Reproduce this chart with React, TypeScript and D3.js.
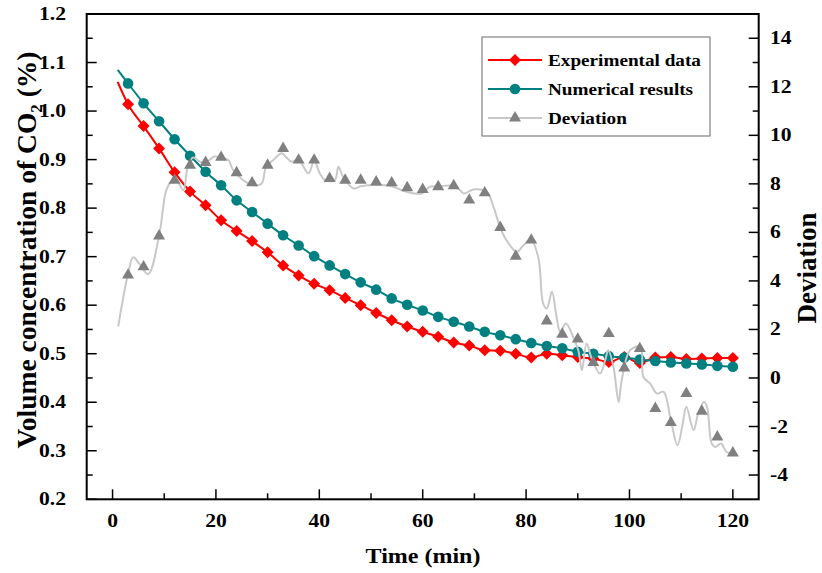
import React from "react";
import * as d3 from "d3";

// sampling times of the markers (min)
const times = [3, 6, 9, 12, 15, 18, 21, 24, 27, 30, 33, 36, 39, 42, 45, 48, 51, 54, 57, 60,
  63, 66, 69, 72, 75, 78, 81, 84, 87, 90, 93, 96, 99, 102, 105, 108, 111, 114, 117, 120];

const experimental = [1.014, 0.969, 0.923, 0.874, 0.834, 0.806, 0.775, 0.753, 0.732, 0.709,
  0.682, 0.661, 0.644, 0.631, 0.615, 0.600, 0.584, 0.569, 0.556, 0.545,
  0.535, 0.523, 0.517, 0.507, 0.506, 0.500, 0.492, 0.500, 0.497, 0.493,
  0.490, 0.483, 0.493, 0.481, 0.492, 0.493, 0.489, 0.490, 0.491, 0.491];

const numerical = [1.057, 1.016, 0.979, 0.942, 0.908, 0.875, 0.847, 0.816, 0.792, 0.768,
  0.744, 0.723, 0.701, 0.682, 0.664, 0.647, 0.632, 0.614, 0.601, 0.589,
  0.576, 0.566, 0.556, 0.545, 0.538, 0.530, 0.522, 0.516, 0.511, 0.504,
  0.500, 0.495, 0.492, 0.488, 0.485, 0.482, 0.480, 0.478, 0.475, 0.473];

const deviation = [4.24, 4.58, 5.85, 8.15, 8.77, 8.88, 9.09, 8.46, 8.04, 8.77,
  9.46, 8.98, 8.98, 8.22, 8.15, 8.15, 8.08, 8.04, 7.84, 7.77,
  7.88, 7.92, 7.33, 7.63, 6.20, 5.02, 5.68, 2.35, 1.80, 1.60,
  0.64, 1.83, 0.41, 1.21, -1.26, -1.84, -0.64, -1.37, -2.43, -3.09];

// curves start at t = 1 min, before the first marker
const startTime = 1;
const experimentalStart = 1.06;
const numericalStart = 1.085;

// the grey deviation curve
const devCurveT = [1.1, 3, 4, 5.2, 6.9, 9, 10.4, 11.4, 12.5, 13.7, 14.6, 15.6, 17, 18.5, 19.8, 21,
  22.4, 23.3, 25.3, 27, 28.8, 29.7, 31.1, 32.7, 33.6, 34.6, 36, 37.9, 39, 40.1, 41.1, 43,
  43.7, 44.6, 46.6, 48, 51.1, 54, 56.9, 59.8, 61.4, 63, 66, 67.2, 68, 69.8, 72.4, 73.7,
  75, 76.2, 78.2, 79.5, 81, 82.4, 83.3, 84, 85, 85.9, 86.6, 87.7, 89.1, 90.1, 90.8, 91.7,
  92.7, 94.3, 95.3, 95.9, 96.9, 97.9, 98.5, 100.1, 102.1, 102.7, 104, 105.3, 106.6, 108,
  109.3, 110.3, 111, 112.4, 113.3, 114.4, 115, 115.9, 116.6, 117.7, 118.8, 120];
const devCurveV = [2.13, 4.3, 4.97, 4.7, 4.28, 5.85, 7.74, 8.09, 8.1, 7.74, 8.77, 9.09, 8.9, 8.95, 9.14, 9.05,
  8.98, 8.57, 8.15, 7.95, 8.0, 8.7, 8.98, 9.26, 9.1, 8.91, 8.98, 8.43, 8.95, 8.43, 8.15, 8.15,
  8.7, 8.29, 7.81, 7.9, 7.95, 7.9, 7.67, 7.6, 7.88, 7.9, 7.92, 7.74, 7.6, 7.77, 7.67, 7.05,
  6.2, 5.68, 5.2, 5.47, 5.68, 4.93, 3.07, 2.86, 3.55, 2.52, 1.9, 2.24, 1.69, 1.14, 0.32, 1.42,
  0.8, 0.18, 0.73, 1.14, 0.46, -0.99, -0.09, 1.14, 1.28, 0.04, -0.23, -0.64, -0.57, -1.74,
  -2.77, -1.88, -1.19, -2.15, -1.47, -0.99, -1.19, -2.7, -2.84, -2.7, -3.05, -3.09];

const xTicks = [0, 20, 40, 60, 80, 100, 120];
const leftTicks = [0.2, 0.3, 0.4, 0.5, 0.6, 0.7, 0.8, 0.9, 1.0, 1.1, 1.2];
const rightTicks = [-4, -2, 0, 2, 4, 6, 8, 10, 12, 14];

const legendItems = ["Experimental data", "Numerical results", "Deviation"];

const W = 822, H = 573;
const FONT = "'Liberation Serif', 'Times New Roman', serif";
const SX = 1.2; // the source picture is stretched sideways

const Txt = ({ x, y, size, anchor = "start", rotate = false, children }) =>
  <g transform={rotate ? `translate(${x},${y}) rotate(-90)` : `translate(${x},${y}) scale(${SX},1)`}>
    <text textAnchor={anchor} fontSize={size} fontWeight="bold" fontFamily={FONT} fill="#000">{children}</text>
  </g>;

const diamond = (s) => `M0,${-s}L${s},0L0,${s}L${-s},0Z`;
const triangle = (w) => {
  const h = w * 0.866;
  return `M0,${-h * 2 / 3}L${w / 2},${h / 3}L${-w / 2},${h / 3}Z`;
};

const App = () => {
  const x = d3.scaleLinear().domain([-5, 125]).range([86.7, 758.7]);
  const yL = d3.scaleLinear().domain([0.2, 1.2]).range([499.3, 14]);
  const yR = d3.scaleLinear().domain([-5, 15]).range([499.3, 14]);

  const smooth = d3.line().curve(d3.curveMonotoneX);
  const wiggly = d3.line().curve(d3.curveCatmullRom.alpha(0.5));

  const expPts = [[x(startTime), yL(experimentalStart)], ...times.map((t, i) => [x(t), yL(experimental[i])])];
  const numPts = [[x(startTime), yL(numericalStart)], ...times.map((t, i) => [x(t), yL(numerical[i])])];
  const devPts = devCurveT.map((t, i) => [x(t), yR(devCurveV[i])]);

  const xMinor = d3.range(10, 120, 20);
  const leftMinor = d3.range(0.25, 1.2, 0.1);
  const rightMinor = d3.range(-3, 15, 2);

  const [x0, x1] = x.range();
  const [yb, yt] = yL.range();

  return (
    <svg width={W} height={H} style={{ position: "absolute", left: 0, top: 0, background: "#fff" }}>
      {/* data */}
      <path d={smooth(expPts)} fill="none" stroke="#ff0000" strokeWidth={2} />
      <path d={smooth(numPts)} fill="none" stroke="#008080" strokeWidth={2} />
      {times.map((t, i) =>
        <path key={"e" + i} d={diamond(6)} transform={`translate(${x(t)},${yL(experimental[i])})`} fill="#ff0000" />)}
      {times.map((t, i) =>
        <circle key={"n" + i} cx={x(t)} cy={yL(numerical[i])} r={5.3} fill="#008080" />)}
      <path d={wiggly(devPts)} fill="none" stroke="#c8c8c8" strokeWidth={2} />
      {times.map((t, i) =>
        <path key={"d" + i} d={triangle(12)} transform={`translate(${x(t)},${yR(deviation[i])})`} fill="#808080" />)}

      {/* ticks */}
      <g stroke="#000" strokeWidth={1.5}>
        {xTicks.map(t => <line key={"xt" + t} x1={x(t)} x2={x(t)} y1={yb} y2={yb - 10} />)}
        {xMinor.map(t => <line key={"xm" + t} x1={x(t)} x2={x(t)} y1={yb} y2={yb - 6} />)}
        {leftTicks.map(t => <line key={"lt" + t} x1={x0} x2={x0 + 10} y1={yL(t)} y2={yL(t)} />)}
        {leftMinor.map(t => <line key={"lm" + t} x1={x0} x2={x0 + 6} y1={yL(t)} y2={yL(t)} />)}
        {rightTicks.map(t => <line key={"rt" + t} x1={x1} x2={x1 - 10} y1={yR(t)} y2={yR(t)} />)}
        {rightMinor.map(t => <line key={"rm" + t} x1={x1} x2={x1 - 6} y1={yR(t)} y2={yR(t)} />)}
      </g>
      <rect x={x0} y={yt} width={x1 - x0} height={yb - yt} fill="none" stroke="#000" strokeWidth={2} />

      {/* tick labels */}
      {xTicks.map(t => <Txt key={"xl" + t} x={x(t)} y={527} size={18} anchor="middle">{t}</Txt>)}
      {leftTicks.map(t => <Txt key={"ll" + t} x={66} y={yL(t) + 6} size={18} anchor="end">{d3.format(".1f")(t)}</Txt>)}
      {rightTicks.map(t => <Txt key={"rl" + t} x={770} y={yR(t) + 6} size={18}>{t}</Txt>)}

      {/* axis titles */}
      <Txt x={463 - 40} y={563} size={20} anchor="middle">Time (min)</Txt>
      <Txt x={36} y={250} size={27.5} anchor="middle" rotate>
        Volume concentration of CO<tspan fontSize={17} dy={6}>2</tspan><tspan dy={-6}> (%)</tspan>
      </Txt>
      <Txt x={816} y={268} size={27} anchor="middle" rotate>Deviation</Txt>

      {/* legend */}
      <rect x={482} y={37} width={228} height={99} fill="#fff" stroke="#808080" strokeWidth={1.2} />
      {legendItems.map((name, i) => {
        const ly = 60 + i * 29;
        const col = ["#ff0000", "#008080", "#c8c8c8"][i];
        return (
          <g key={name}>
            <line x1={488} x2={542} y1={ly} y2={ly} stroke={col} strokeWidth={2} />
            {i === 0 && <path d={diamond(6)} transform={`translate(515,${ly})`} fill="#ff0000" />}
            {i === 1 && <circle cx={515} cy={ly} r={5.3} fill="#008080" />}
            {i === 2 && <path d={triangle(12)} transform={`translate(515,${ly})`} fill="#808080" />}
            <Txt x={548} y={ly + 5.5} size={16}>{name}</Txt>
          </g>
        );
      })}
    </svg>
  );
};

export default App;
